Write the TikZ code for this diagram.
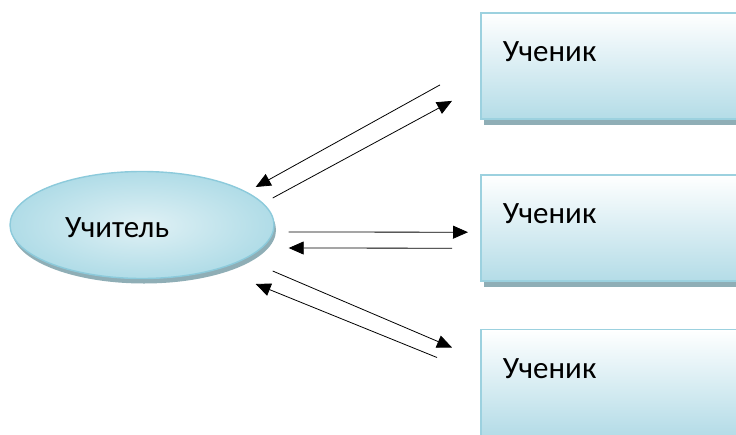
\documentclass[tikz,border=0pt]{standalone}
\usepackage{fontspec}
\setmainfont{Carlito}
\usepackage{xcolor}
\usetikzlibrary{shapes,arrows.meta,positioning,shadows}

\definecolor{boxline}{HTML}{9CD1DF}
\definecolor{boxfill}{HTML}{B4DCE7}
\definecolor{ovalline}{HTML}{8CCADB}
\definecolor{ovallight}{HTML}{E0F1F5}
\definecolor{ovaldark}{HTML}{B0DCE7}
\definecolor{shadowcol}{HTML}{8FAEB6}

\begin{document}
\begin{tikzpicture}[
    x=1pt, y=-1pt,
    pupil/.style={rectangle, draw=boxline, line width=1.8pt, top color=white, bottom color=boxfill,
        minimum width=290pt, text width=246pt, align=left, inner xsep=22pt, inner ysep=0pt,
        text height=49pt, text depth=57pt, font=\fontsize{31}{36}\selectfont,
        drop shadow={shadow xshift=3pt, shadow yshift=-6pt, fill=shadowcol, opacity=1}},
    teacher/.style={ellipse, draw=ovalline, line width=1.4pt, inner color=ovallight, outer color=ovaldark,
        minimum width=264pt, minimum height=107pt, text width=154pt, align=left,
        text height=26pt, font=\fontsize{31}{36}\selectfont,
        drop shadow={shadow xshift=2pt, shadow yshift=-5pt, fill=shadowcol, opacity=1}},
    arrow/.style={-{Triangle[length=15pt,width=13pt]}, line width=0.8pt}
]
\useasboundingbox (0,0) rectangle (736,434);
\clip (0,0) rectangle (736,434);

% Teacher
\node[teacher] (teacher) at (142,225) {Учитель};

% Pupils
\node[pupil, anchor=north west] (pupil1) at (480,12) {Ученик};
\node[pupil, below=54pt of pupil1] (pupil2) {Ученик};
\node[pupil, below=47pt of pupil2] (pupil3) {Ученик};

% Arrows
\draw[arrow] ([shift={(-40,19)}]pupil1.west) -- ([shift={(-19,-38)}]teacher.east);
\draw[arrow] ([shift={(-2,-27)}]teacher.east) -- ([shift={(-28,35)}]pupil1.west);
\draw[arrow] ([shift={(14,7)}]teacher.east) -- ([shift={(-12,4.5)}]pupil2.west);
\draw[arrow] ([shift={(-28,20.5)}]pupil2.west) -- ([shift={(14,23)}]teacher.east);
\draw[arrow] ([shift={(-2,46)}]teacher.east) -- ([shift={(-28,-35)}]pupil3.west);
\draw[arrow] ([shift={(-43,-25)}]pupil3.west) -- ([shift={(-19,59)}]teacher.east);

\end{tikzpicture}
\end{document}
